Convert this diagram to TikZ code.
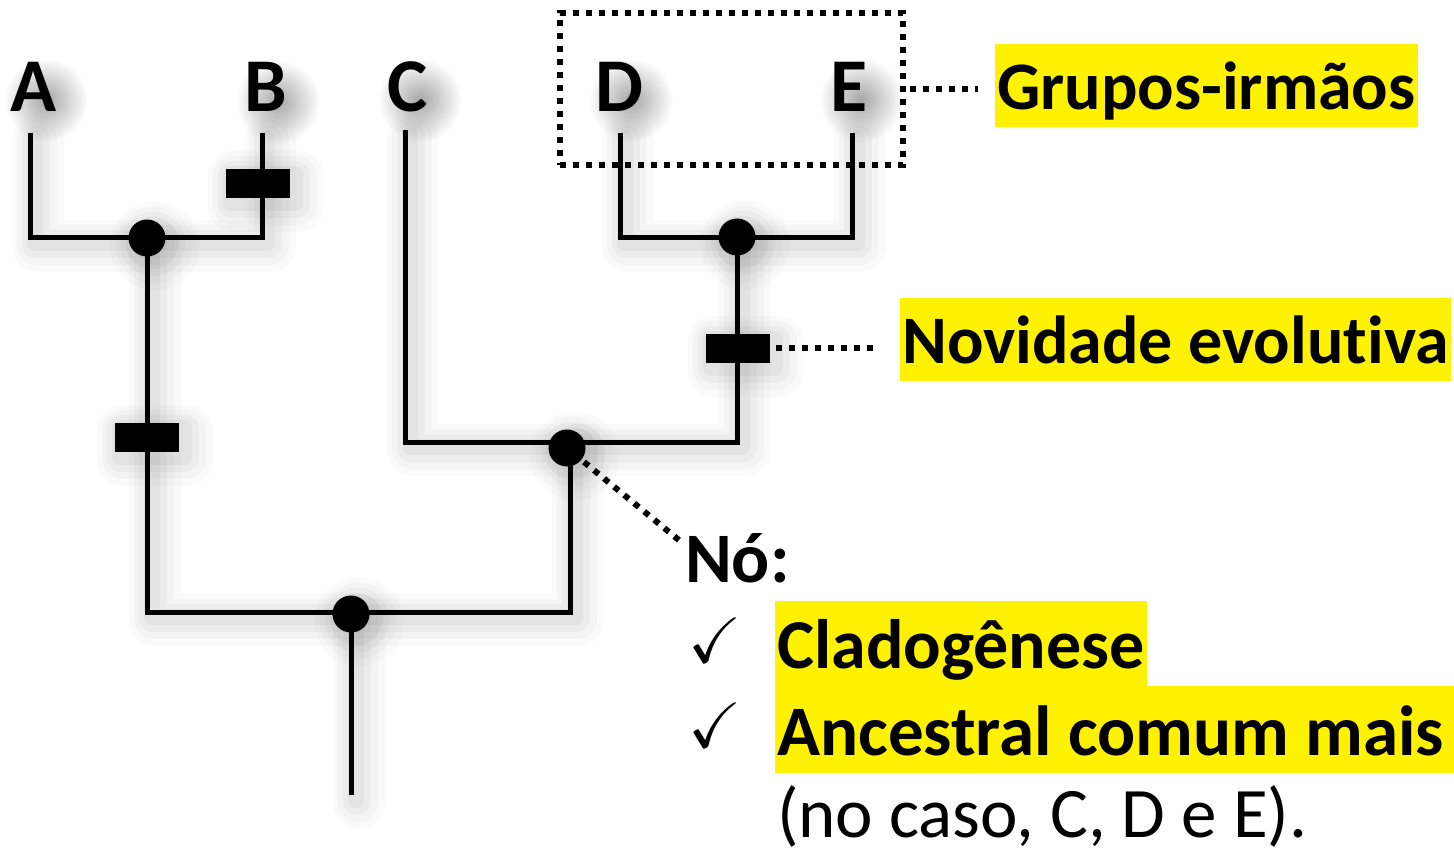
\documentclass[tikz,border=0pt]{standalone}
\usepackage{amssymb}
\usepackage{fontspec}
\setmainfont{Carlito}[Ligatures=NoCommon]
\usetikzlibrary{fadings}
\tikzfading[name=softglow, inner color=transparent!0, outer color=transparent!100]
\begin{document}
\begin{tikzpicture}[x=1pt,y=-1pt,
  glow/.style={preaction={draw=black,line cap=round,line join=round,line width=52pt,opacity=0.02,transform canvas={shift={(8pt,-8pt)}}},
               preaction={draw=black,line cap=round,line join=round,line width=40pt,opacity=0.025,transform canvas={shift={(7pt,-7pt)}}},
               preaction={draw=black,line cap=round,line join=round,line width=28pt,opacity=0.03,transform canvas={shift={(6pt,-6pt)}}},
               preaction={draw=black,line cap=round,line join=round,line width=16pt,opacity=0.04,transform canvas={shift={(5pt,-5pt)}}}},
  branch/.style={glow,draw=black,line width=5pt},
  dot/.style={circle,fill=black,minimum size=37pt,inner sep=0pt,glow},
  bar/.style={rectangle,fill=black,minimum width=64pt,minimum height=29pt,inner sep=0pt,glow},
  taxon/.style={font=\fontsize{76}{80}\selectfont\bfseries,anchor=base,inner sep=0pt},
  haze/.style={fill=black,opacity=0.35,path fading=softglow},
  dots/.style={line width=6pt,dash pattern=on 6pt off 7pt},
  hl/.style={fill=yellow,inner xsep=2pt,inner ysep=0pt,anchor=base west,font=\fontsize{68}{72}\selectfont\bfseries},
  hlb/.style={hl,font=\fontsize{70}{74}\selectfont\bfseries},
  plain/.style={inner sep=0pt,anchor=base west,font=\fontsize{71}{75}\selectfont},
  chk/.style={inner sep=0pt,anchor=base west,font=\fontsize{64}{68}\selectfont}]
\useasboundingbox (0,0) rectangle (1454,853);
% soft shadows behind the taxon letters
\fill[haze] (46,100) ellipse (42pt and 42pt);
\fill[haze] (278,102) ellipse (42pt and 42pt);
\fill[haze] (420,100) ellipse (42pt and 42pt);
\fill[haze] (631,100) ellipse (42pt and 42pt);
\fill[haze] (861,100) ellipse (42pt and 42pt);
% taxa labels
\node[taxon] (A) at (34,112) {A};
\node[taxon] (B) at (266,112) {B};
\node[taxon] (C) at (408,112) {C};
\node[taxon] (D) at (619,112) {D};
\node[taxon] (E) at (849,112) {E};
% tips
\coordinate (tA) at (30,133);
\coordinate (tB) at (262,133);
\coordinate (tC) at (405,130);
\coordinate (tD) at (620,133);
\coordinate (tE) at (852,133);
\coordinate (tR) at (351,795);
% internal node positions
\coordinate (pAB) at (147,238);
\coordinate (pDE) at (737,238);
\coordinate (pCDE) at (570,442);
\coordinate (pR) at (351,612);
% branches
\draw[branch] (tA) |- (pAB) -| (tB);
\draw[branch] (tD) |- (pDE) -| (tE);
\draw[branch] (tC) |- (pCDE) -| (pDE);
\draw[branch] (pAB) |- (pR) -| (pCDE);
\draw[branch] (pR) -- (tR);
% dots
\node[dot] (nAB) at (147,238) {};
\node[dot] (nDE) at (737,237) {};
\node[dot] (nCDE) at (567,448) {};
\node[dot] (nR) at (351,614) {};
% bars
\node[bar] (bB) at (258,184) {};
\node[bar] (bAB) at (147,437) {};
\node[bar] (bDE) at (738,348) {};
% sister group box
\node[draw,dots,minimum width=343pt,minimum height=152pt,inner sep=0pt] (box) at (731.5,89) {};
% labels
\node[hl,text height=66pt,text depth=17pt] (gi) at (995,110) {Grupos-irmãos};
\node[hl,text height=65pt,text depth=18pt] (nov) at (900,363) {Novidade evolutiva};
\node[plain,font=\fontsize{71}{75}\selectfont\bfseries] (no) at (685,582) {Nó:};
\node[chk] (c1) at (688,662) {$\checkmark$};
\node[chk] (c2) at (688,747) {$\checkmark$};
\node[hlb,text height=67pt,text depth=18pt] (clad) at (775,668) {Cladogênese};
\node[hlb,font=\fontsize{71}{75}\selectfont\bfseries,text height=69pt,text depth=18pt,text width=675pt,align=flush left] (anc) at (775,755) {Ancestral comum mais};
\node[plain] (caso) at (777,837) {(no caso, C, D e E).};
% dotted connectors
\coordinate (noEnd) at (680,541);
\draw[dots,shorten <=4pt,shorten >=17pt] (box.east) -- (box.east -| gi.west);
\draw[dots,shorten <=6pt,shorten >=20pt] (bDE.east) -- (bDE.east -| nov.west);
\draw[dots,shorten <=22pt] (nCDE.center) -- (noEnd);
\end{tikzpicture}
\end{document}
